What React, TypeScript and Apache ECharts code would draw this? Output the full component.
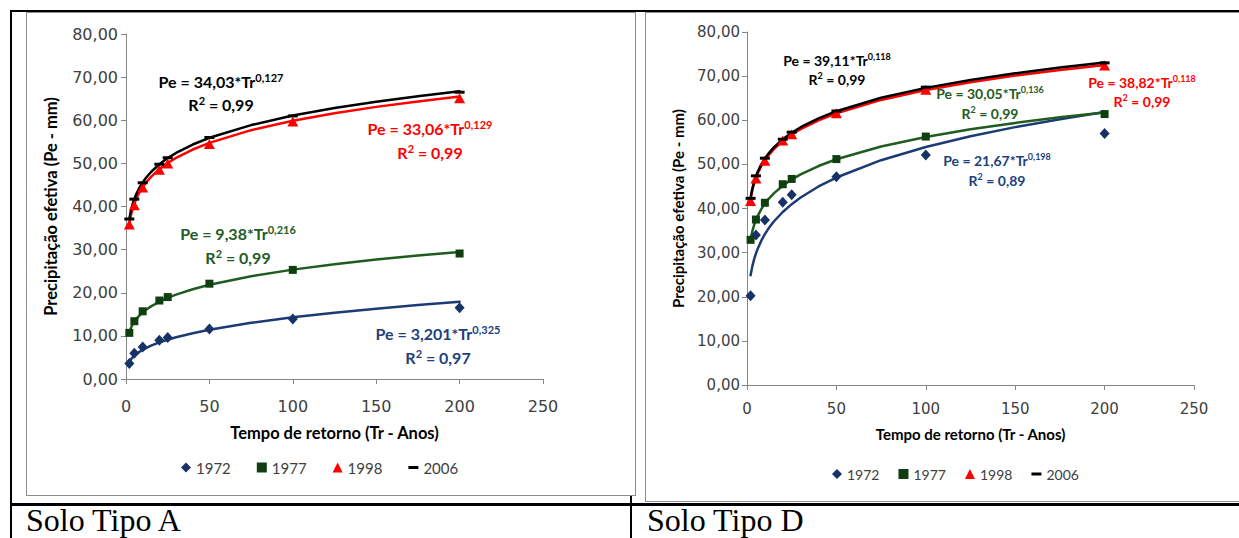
import React, { useEffect, useRef } from "react";
import * as echarts from "echarts";

// ---------- data ----------
const years = ["1972", "1977", "1998", "2006"];
const returnPeriods = [2, 5, 10, 20, 25, 50, 100, 200];
const trendPeriods = [2, 3, 4, 5, 6, 8, 10, 12, 15, 20, 25, 30, 40, 50, 75, 100, 125, 150, 175, 200];

// Solo Tipo A – observed points
const a1972 = [3.6, 6.0, 7.4, 9.0, 9.6, 11.6, 13.9, 16.5];
const a1977 = [10.7, 13.4, 15.7, 18.2, 19.0, 22.1, 25.3, 29.1];
const a1998 = [35.8, 40.3, 44.4, 48.5, 50.0, 54.5, 59.7, 65.1];
const a2006 = [37.1, 41.7, 45.5, 49.8, 51.3, 56.0, 61.0, 66.5];
// Solo Tipo A – power trend curves
const ta1972 = [4.01, 4.58, 5.02, 5.4, 5.73, 6.29, 6.77, 7.18, 7.72, 8.48, 9.11, 9.67, 10.62, 11.41, 13.02, 14.3, 15.37, 16.31, 17.15, 17.91];
const ta1977 = [10.9, 11.89, 12.66, 13.28, 13.81, 14.7, 15.42, 16.04, 16.84, 17.92, 18.8, 19.56, 20.81, 21.84, 23.84, 25.36, 26.62, 27.69, 28.62, 29.46];
const ta1998 = [36.15, 38.1, 39.53, 40.69, 41.66, 43.23, 44.49, 45.55, 46.88, 48.65, 50.08, 51.27, 53.21, 54.76, 57.7, 59.89, 61.63, 63.1, 64.37, 65.49];
const ta2006 = [37.16, 39.12, 40.58, 41.75, 42.73, 44.32, 45.59, 46.66, 48.0, 49.79, 51.22, 52.42, 54.37, 55.93, 58.88, 61.08, 62.83, 64.3, 65.57, 66.7];

// Solo Tipo D – observed points
const d1972 = [20.2, 34.0, 37.4, 41.4, 43.1, 47.2, 52.1, 57.0];
const d1977 = [32.9, 37.5, 41.3, 45.5, 46.7, 51.2, 56.3, 61.4];
const d1998 = [41.7, 46.8, 50.8, 55.4, 56.8, 61.6, 66.9, 72.4];
const d2006 = [42.3, 47.4, 51.4, 55.7, 57.3, 62.1, 67.5, 73.0];
// Solo Tipo D – power trend curves
const td1972 = [24.86, 26.94, 28.52, 29.8, 30.9, 32.71, 34.19, 35.44, 37.05, 39.21, 40.99, 42.49, 44.99, 47.02, 50.95, 53.93, 56.37, 58.44, 60.25, 61.87];
const td1977 = [33.02, 34.89, 36.29, 37.4, 38.34, 39.87, 41.1, 42.13, 43.43, 45.16, 46.56, 47.73, 49.63, 51.16, 54.06, 56.22, 57.95, 59.4, 60.66, 61.77];
const td1998 = [42.13, 44.19, 45.72, 46.94, 47.96, 49.62, 50.94, 52.05, 53.44, 55.28, 56.76, 57.99, 59.99, 61.59, 64.61, 66.84, 68.62, 70.12, 71.4, 72.54];
const td2006 = [42.44, 44.52, 46.06, 47.29, 48.32, 49.99, 51.32, 52.44, 53.84, 55.69, 57.18, 58.42, 60.44, 62.05, 65.1, 67.34, 69.14, 70.65, 71.94, 73.08];

// equations text
const eqA = [
  { year: "2006", main: "Pe = 34,03*Tr", exp: "0,127", r2: "0,99" },
  { year: "1998", main: "Pe = 33,06*Tr", exp: "0,129", r2: "0,99" },
  { year: "1977", main: "Pe = 9,38*Tr", exp: "0,216", r2: "0,99" },
  { year: "1972", main: "Pe = 3,201*Tr", exp: "0,325", r2: "0,97" },
];
const eqD = [
  { year: "2006", main: "Pe = 39,11*Tr", exp: "0,118", r2: "0,99" },
  { year: "1977", main: "Pe = 30,05*Tr", exp: "0,136", r2: "0,99" },
  { year: "1998", main: "Pe = 38,82*Tr", exp: "0,118", r2: "0,99" },
  { year: "1972", main: "Pe = 21,67*Tr", exp: "0,198", r2: "0,89" },
];

const xAxisTitle = "Tempo de retorno (Tr - Anos)";
const yAxisTitle = "Precipitação efetiva (Pe - mm)";
const captions = ["Solo Tipo A", "Solo Tipo D"];

// ---------- styles ----------
const LABEL_FONT = "'DejaVu Sans', sans-serif";
const TEXT_FONT = "Lato, 'Open Sans', sans-serif";
const lineColors: Record<string, string> = { "1972": "#1c3a74", "1977": "#1f5c1f", "1998": "#ff0000", "2006": "#000000" };
const markColors: Record<string, string> = { "1972": "#173266", "1977": "#0f3f10", "1998": "#ff0000", "2006": "#000000" };
const textColors: Record<string, string> = { "1972": "#213f7c", "1977": "#245a24", "1998": "#ff0000", "2006": "#000000" };
const symbols: Record<string, any> = {
  "1972": { symbol: "diamond", size: [10, 11] },
  "1977": { symbol: "rect", size: [8, 8] },
  "1998": { symbol: "triangle", size: [11, 10] },
  "2006": { symbol: "rect", size: [10, 3] },
};
const legendIcons: Record<string, string> = {
  "1972": "diamond",
  "1977": "rect",
  "1998": "triangle",
  "2006": "path://M0,0L10,0L10,3L0,3Z",
};

const pointsA = [a1972, a1977, a1998, a2006];
const trendsA = [ta1972, ta1977, ta1998, ta2006];
const pointsD = [d1972, d1977, d1998, d2006];
const trendsD = [td1972, td1977, td1998, td2006];

const pairs = (xs: number[], ys: number[]) => xs.map((x, i) => [x, ys[i]]);

// equation label positions (centers: x, y of first line, y of second line)
const eqPosA = [
  [221, 81, 104],
  [430, 128, 152],
  [238, 233, 257],
  [438, 333, 357],
];
const eqPosD = [
  [837, 60, 79],
  [990, 93, 113],
  [1142, 82, 101],
  [997, 160, 180],
];

function eqTexts(eqs: any[], pos: number[][], size: number) {
  const els: any[] = [];
  const sup = Math.round(size * 0.66);
  eqs.forEach((e, i) => {
    const color = textColors[e.year];
    const rich = {
      a: { fontFamily: TEXT_FONT, fontWeight: "bold", fontSize: size, lineHeight: size + 2, fill: color },
      s: { fontFamily: TEXT_FONT, fontWeight: "bold", fontSize: sup, lineHeight: sup, verticalAlign: "top", fill: color },
    };
    const [cx, y1, y2] = pos[i];
    const common = { align: "center", verticalAlign: "middle", textAlign: "center", textVerticalAlign: "middle", fill: color, rich };
    els.push({ type: "text", x: cx, y: y1, z: 50, style: { ...common, text: `{a|${e.main}}{s|${e.exp}}` } });
    els.push({ type: "text", x: cx, y: y2, z: 50, style: { ...common, text: `{a|R}{s|2}{a| = ${e.r2}}` } });
  });
  return els;
}

function buildOption() {
  const panels = [
    { grid: { left: 126, top: 34, width: 417, height: 345 }, lab: 16, name: 16.5, xMargin: 19, xGap: 45, yGap: 67, yMargin: 8 },
    { grid: { left: 747, top: 32, width: 447, height: 353 }, lab: 15, name: 15, xMargin: 16, xGap: 41, yGap: 62, yMargin: 7 },
  ];
  const axisLine = { show: true, lineStyle: { color: "#868686", width: 1 } };
  const axisTick = { show: true, length: 5, lineStyle: { color: "#868686" } };

  const series: any[] = [];
  [[pointsA, trendsA], [pointsD, trendsD]].forEach(([pts, trs], p) => {
    years.forEach((y, i) => {
      series.push({
        type: "line",
        name: `Potência (${y})`,
        xAxisIndex: p,
        yAxisIndex: p,
        data: pairs(trendPeriods, (trs as number[][])[i]),
        showSymbol: false,
        symbol: "none",
        smooth: false,
        lineStyle: { color: lineColors[y], width: 2.5, join: "round", cap: "round" },
        itemStyle: { color: lineColors[y] },
        silent: true,
        z: 2,
      });
    });
    years.forEach((y, i) => {
      series.push({
        type: "scatter",
        name: y,
        xAxisIndex: p,
        yAxisIndex: p,
        data: pairs(returnPeriods, (pts as number[][])[i]),
        symbol: symbols[y].symbol,
        symbolSize: symbols[y].size,
        itemStyle: { color: markColors[y], opacity: 1 },
        z: 3,
      });
    });
  });

  const legendData = years.map((y) => ({ name: y, icon: legendIcons[y] }));

  return {
    animation: false,
    backgroundColor: "transparent",
    grid: panels.map((p) => ({ ...p.grid, containLabel: false })),
    xAxis: panels.map((p, i) => ({
      gridIndex: i,
      type: "value",
      min: 0,
      max: 250,
      interval: 50,
      name: xAxisTitle,
      nameLocation: "middle",
      nameGap: p.xGap,
      nameTextStyle: { fontFamily: TEXT_FONT, fontWeight: "bold", fontSize: p.name, color: "#000" },
      axisLine,
      axisTick,
      axisLabel: { margin: p.xMargin, fontFamily: LABEL_FONT, fontSize: p.lab, color: "#404040" },
      splitLine: { show: false },
    })),
    yAxis: panels.map((p, i) => ({
      gridIndex: i,
      type: "value",
      min: 0,
      max: 80,
      interval: 10,
      name: yAxisTitle,
      nameLocation: "middle",
      nameGap: p.yGap,
      nameTextStyle: { fontFamily: TEXT_FONT, fontWeight: "bold", fontSize: p.name, color: "#000" },
      axisLine,
      axisTick,
      axisLabel: {
        margin: p.yMargin,
        fontFamily: LABEL_FONT,
        fontSize: p.lab,
        color: "#404040",
        formatter: (v: number) => v.toFixed(2).replace(".", ","),
      },
      splitLine: { show: false },
    })),
    legend: [
      {
        left: 176,
        top: 455,
        itemWidth: 10,
        itemHeight: 10,
        itemGap: 26,
        selectedMode: false,
        data: legendData,
        textStyle: { fontFamily: TEXT_FONT, fontSize: 15, color: "#404040" },
      },
      {
        left: 827,
        top: 462,
        itemWidth: 10,
        itemHeight: 10,
        itemGap: 19,
        selectedMode: false,
        data: legendData,
        textStyle: { fontFamily: TEXT_FONT, fontSize: 14, color: "#404040" },
      },
    ],
    graphic: { elements: [...eqTexts(eqA, eqPosA, 16), ...eqTexts(eqD, eqPosD, 14)] },
    series,
  };
}

const box = (s: React.CSSProperties): React.CSSProperties => ({ position: "absolute", boxSizing: "border-box", ...s });

export default function App() {
  const ref = useRef<HTMLDivElement>(null);
  useEffect(() => {
    if (!ref.current) return;
    const chart = echarts.init(ref.current, undefined, { renderer: "svg" });
    chart.setOption(buildOption() as any);
    return () => chart.dispose();
  }, []);

  return (
    <div style={{ position: "absolute", left: 0, top: 0, width: 1239, height: 538, background: "#fff", overflow: "hidden" }}>
      {/* table lines */}
      <div style={box({ left: 10, top: 10, width: 2, height: 528, background: "#000" })} />
      <div style={box({ left: 10, top: 10, width: 1229, height: 2, background: "#000" })} />
      <div style={box({ left: 630, top: 10, width: 2, height: 528, background: "#000" })} />
      <div style={box({ left: 10, top: 503, width: 1229, height: 2.5, background: "#000" })} />
      {/* chart frames */}
      <div style={box({ left: 26, top: 12, width: 610, height: 484, border: "1.5px solid #8c8c8c", background: "#fff" })} />
      <div style={box({ left: 645, top: 12, width: 620, height: 490, border: "1.5px solid #8c8c8c", background: "#fff" })} />
      {/* chart */}
      <div ref={ref} style={{ position: "absolute", left: 0, top: 0, width: 1239, height: 538 }} />
      {/* captions */}
      {captions.map((c, i) => (
        <div
          key={c}
          style={{
            position: "absolute",
            left: i === 0 ? 26 : 647,
            top: 504,
            fontFamily: "'Liberation Serif', 'Times New Roman', serif",
            fontSize: 32,
            lineHeight: 1,
            color: "#000",
            whiteSpace: "nowrap",
          }}
        >
          {c}
        </div>
      ))}
    </div>
  );
}
